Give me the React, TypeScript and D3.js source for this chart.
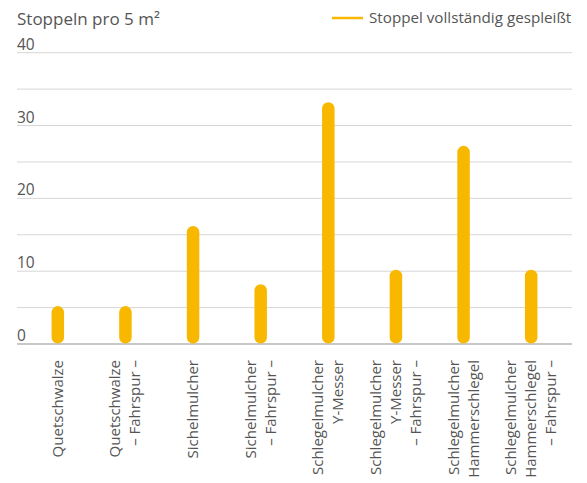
import React from "react";
import * as d3 from "d3";

const categories: string[][] = [
  ["Quetschwalze"],
  ["Quetschwalze", "– Fahrspur –"],
  ["Sichelmulcher"],
  ["Sichelmulcher", "– Fahrspur –"],
  ["Schlegelmulcher", "Y-Messer"],
  ["Schlegelmulcher", "Y-Messer", "– Fahrspur –"],
  ["Schlegelmulcher", "Hammerschlegel"],
  ["Schlegelmulcher", "Hammerschlegel", "– Fahrspur –"],
];
const values: number[] = [5, 5, 16, 8, 33, 10, 27, 10];
const yTicks: number[] = [0, 10, 20, 30, 40];
const gridTicks: number[] = [0, 5, 10, 15, 20, 25, 30, 35, 40];
const title = "Stoppeln pro 5 m²";
const legendLabel = "Stoppel vollständig gespleißt";

const W = 587;
const H = 483;
const FONT = "'Open Sans', sans-serif";
const TEXT = "#555";
const BAR = "#F9B800";

export default function App() {
  const x = d3
    .scaleBand<number>()
    .domain(categories.map((_, i) => i))
    .range([24, 565]);
  const y = d3.scaleLinear().domain([0, 40]).range([344, 52.7]);
  const bw = 12.5;

  return (
    <svg
      width={W}
      height={H}
      style={{ position: "absolute", left: 0, top: 0, background: "#fff" }}
      fontFamily={FONT}
    >
      <text x={17} y={24.5} fontSize={17} fill={TEXT}>
        {title}
      </text>
      <line x1={332} x2={363} y1={18} y2={18} stroke={BAR} strokeWidth={2.5} />
      <text x={369} y={23} fontSize={15.2} fill={TEXT}>
        {legendLabel}
      </text>

      {gridTicks.map((t) => (
        <line
          key={t}
          x1={17}
          x2={572}
          y1={y(t)}
          y2={y(t)}
          stroke={t === 0 ? "#c8c8c8" : "#d6d6d6"}
          strokeWidth={t === 0 ? 2 : 1}
        />
      ))}
      {yTicks.map((t) => (
        <text key={t} x={17} y={y(t) - 3} fontSize={15.5} fill={TEXT}>
          {t}
        </text>
      ))}

      {values.map((v, i) => {
        const cx = x(i)! + x.bandwidth() / 2;
        const top = y(v) - 1.5;
        return (
          <rect
            key={i}
            x={cx - bw / 2}
            y={top}
            width={bw}
            height={y(0) - 0.5 - top}
            rx={bw / 2}
            ry={bw / 2}
            fill={BAR}
          />
        );
      })}

      {categories.map((lines, i) => {
        const cx = x(i)! + x.bandwidth() / 2;
        const n = lines.length;
        return (
          <g key={i} transform={`translate(${cx},360) rotate(-90)`}>
            {lines.map((l, j) => (
              <text
                key={j}
                x={0}
                y={(j - (n - 1) / 2) * 20 + 5}
                textAnchor="end"
                fontSize={15}
                fill={TEXT}
              >
                {l}
              </text>
            ))}
          </g>
        );
      })}
    </svg>
  );
}
